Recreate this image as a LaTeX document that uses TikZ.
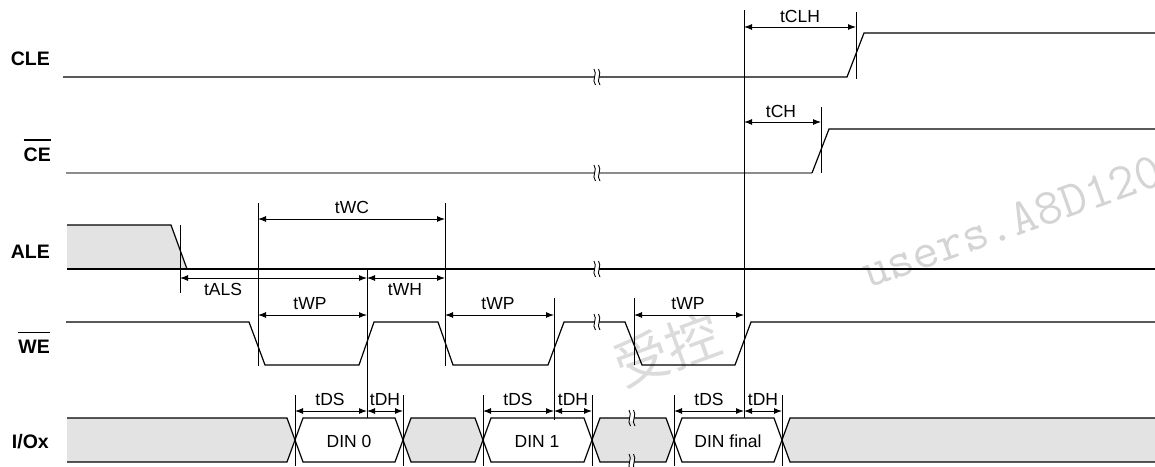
\documentclass[tikz,border=0pt]{standalone}
\usepackage{fontspec}
\setmainfont{Liberation Sans}
\newfontfamily\cjk{Noto Sans CJK SC}
\usetikzlibrary{arrows.meta}
\begin{document}
\begin{tikzpicture}[x=1pt,y=-1pt,
  sig/.style={line width=1.2pt, line join=miter},
  grsig/.style={line width=1.2pt, draw=black!45},
  dim/.style={{Latex[length=8pt,width=6pt]}-{Latex[length=8pt,width=6pt]}, line width=1pt},
  tick/.style={line width=1pt},
  lbl/.style={font=\fontsize{17.5}{18}\selectfont, inner sep=0pt, anchor=base},
  dinlbl/.style={font=\fontsize{17.5}{18}\selectfont, inner sep=0pt, anchor=base},
  sname/.style={font=\bfseries\fontsize{19.5}{20}\selectfont, anchor=base east, inner sep=0pt},
  busfill/.style={fill=black!11},
  wm/.style={text=black!17, inner sep=0pt},
  brk/.pic={
    \fill[white] (-2.2,-2.5) rectangle (2.2,2.5);
    \draw[line width=0.9pt] (-3,-8) .. controls (1,-3) and (-6,3) .. (-1.5,8);
    \draw[line width=0.9pt] (1.5,-8) .. controls (5.5,-3) and (-1.5,3) .. (3,8);
  }
]
\useasboundingbox (0,0) rectangle (1155,466);

% watermarks
\node[wm, rotate=19.5, anchor=base west, font=\ttfamily\fontsize{51}{51}\selectfont] (wm1) at (868,289) {users.A8D120};
\node[wm, text=black!14, rotate=20, font=\cjk\fontsize{54}{54}\selectfont] (wm2) at (667,350) {受控};

% signal names
\node[sname] (cle) at (50,65) {CLE};
\node[sname] (ce) at (51,161) {CE};
\node[sname] (ale) at (50,258) {ALE};
\node[sname] (we) at (50,353) {WE};
\node[sname] (io) at (49,448) {I/Ox};
\draw[line width=1.6pt] ([yshift=7pt]ce.north west) -- ([yshift=7pt]ce.north east);
\draw[line width=1.6pt] ([yshift=7pt]we.north west) -- ([yshift=7pt]we.north east);

% CLE
\draw[sig] (63,77) -- (847,77) -- (864,33) -- (1155,33);
% CE
\draw[grsig] (66,173) -- (812,173);
\draw[sig] (812,173) -- (829,129) -- (1155,129);
% ALE
\fill[black!11] (67,225) -- (171,225) -- (187,269) -- (67,269) -- cycle;
\draw[sig] (67,225) -- (171,225) -- (187,269);
\draw[sig] (67,269) -- (1155,269);
% WE
\draw[sig] (66,322) -- (249,322) -- (265,365) -- (359,365) -- (374,322) -- (438,322)
  -- (453,365) -- (548,365) -- (564,322) -- (625,322) -- (642,365) -- (735,365)
  -- (751,322) -- (1155,322);
% I/Ox bus
\fill[black!11] (67,418) -- (287,418) -- (295,440) -- (287,462) -- (67,462) -- cycle;
\draw[sig] (67,418) -- (287,418) -- (295,440) -- (287,462) -- (67,462);
\draw[sig, fill=white] (295,440) -- (303,418) -- (395,418) -- (403,440) -- (395,462) -- (303,462) -- cycle;
\draw[sig, busfill] (403,440) -- (411,418) -- (475,418) -- (483,440) -- (475,462) -- (411,462) -- cycle;
\draw[sig, fill=white] (483,440) -- (491,418) -- (584,418) -- (592,440) -- (584,462) -- (491,462) -- cycle;
\draw[sig, busfill] (592,440) -- (600,418) -- (666,418) -- (674,440) -- (666,462) -- (600,462) -- cycle;
\draw[sig, fill=white] (674,440) -- (682,418) -- (774,418) -- (782,440) -- (774,462) -- (682,462) -- cycle;
\fill[black!11] (782,440) -- (790,418) -- (1155,418) -- (1155,462) -- (790,462) -- cycle;
\draw[sig] (1155,418) -- (790,418) -- (782,440) -- (790,462) -- (1155,462);

\node[dinlbl] (d0) at (349,447) {DIN 0};
\node[dinlbl] (d1) at (537,447) {DIN 1};
\node[dinlbl] (df) at (728,447) {DIN final};

% break marks
\pic at (597,77) {brk};
\pic at (597,173) {brk};
\pic at (597,269) {brk};
\pic at (597,322) {brk};
\pic at (632,418) {brk};
\pic at (632,462) {brk};

% timing markers
\draw[tick] (744,10) -- (744,418);
\draw[tick] (856,12) -- (856,79);
\draw[tick] (821,107) -- (821,173);
\draw[tick] (180,225) -- (180,293);
\draw[tick] (258,203) -- (258,366);
\draw[tick] (445,203) -- (445,366);
\draw[tick] (367,269) -- (367,418);
\draw[tick] (554,298) -- (554,420);
\draw[tick] (634,298) -- (634,365);
\foreach \x in {295,403,483,592,674,782} \draw[tick] (\x,395) -- (\x,466);

% dimension arrows
\draw[dim] (744,27) -- (856,27);
\node[lbl] (lclh) at (800,22) {tCLH};
\draw[dim] (744,122) -- (821,122);
\node[lbl] (lch) at (781,117) {tCH};
\draw[dim] (258,219) -- (445,219);
\node[lbl] (lwc) at (352,213) {tWC};
\draw[dim] (180,278) -- (367,278);
\node[lbl] (lals) at (223,295) {tALS};
\draw[dim] (367,278) -- (445,278);
\node[lbl] (lwh) at (405,295) {tWH};
\draw[dim] (258,315) -- (367,315);
\node[lbl] (lwp1) at (310,309) {tWP};
\draw[dim] (445,315) -- (554,315);
\node[lbl] (lwp2) at (498,309) {tWP};
\draw[dim] (634,315) -- (744,315);
\node[lbl] (lwp3) at (688,309) {tWP};
\draw[dim] (295,411) -- (367,411);
\node[lbl] (lds1) at (330,405) {tDS};
\draw[dim] (367,411) -- (403,411);
\node[lbl] (ldh1) at (385,405) {tDH};
\draw[dim] (483,411) -- (554,411);
\node[lbl] (lds2) at (518,405) {tDS};
\draw[dim] (554,411) -- (592,411);
\node[lbl] (ldh2) at (573,405) {tDH};
\draw[dim] (674,411) -- (744,411);
\node[lbl] (lds3) at (709,405) {tDS};
\draw[dim] (744,411) -- (782,411);
\node[lbl] (ldh3) at (763,405) {tDH};
\end{tikzpicture}
\end{document}
